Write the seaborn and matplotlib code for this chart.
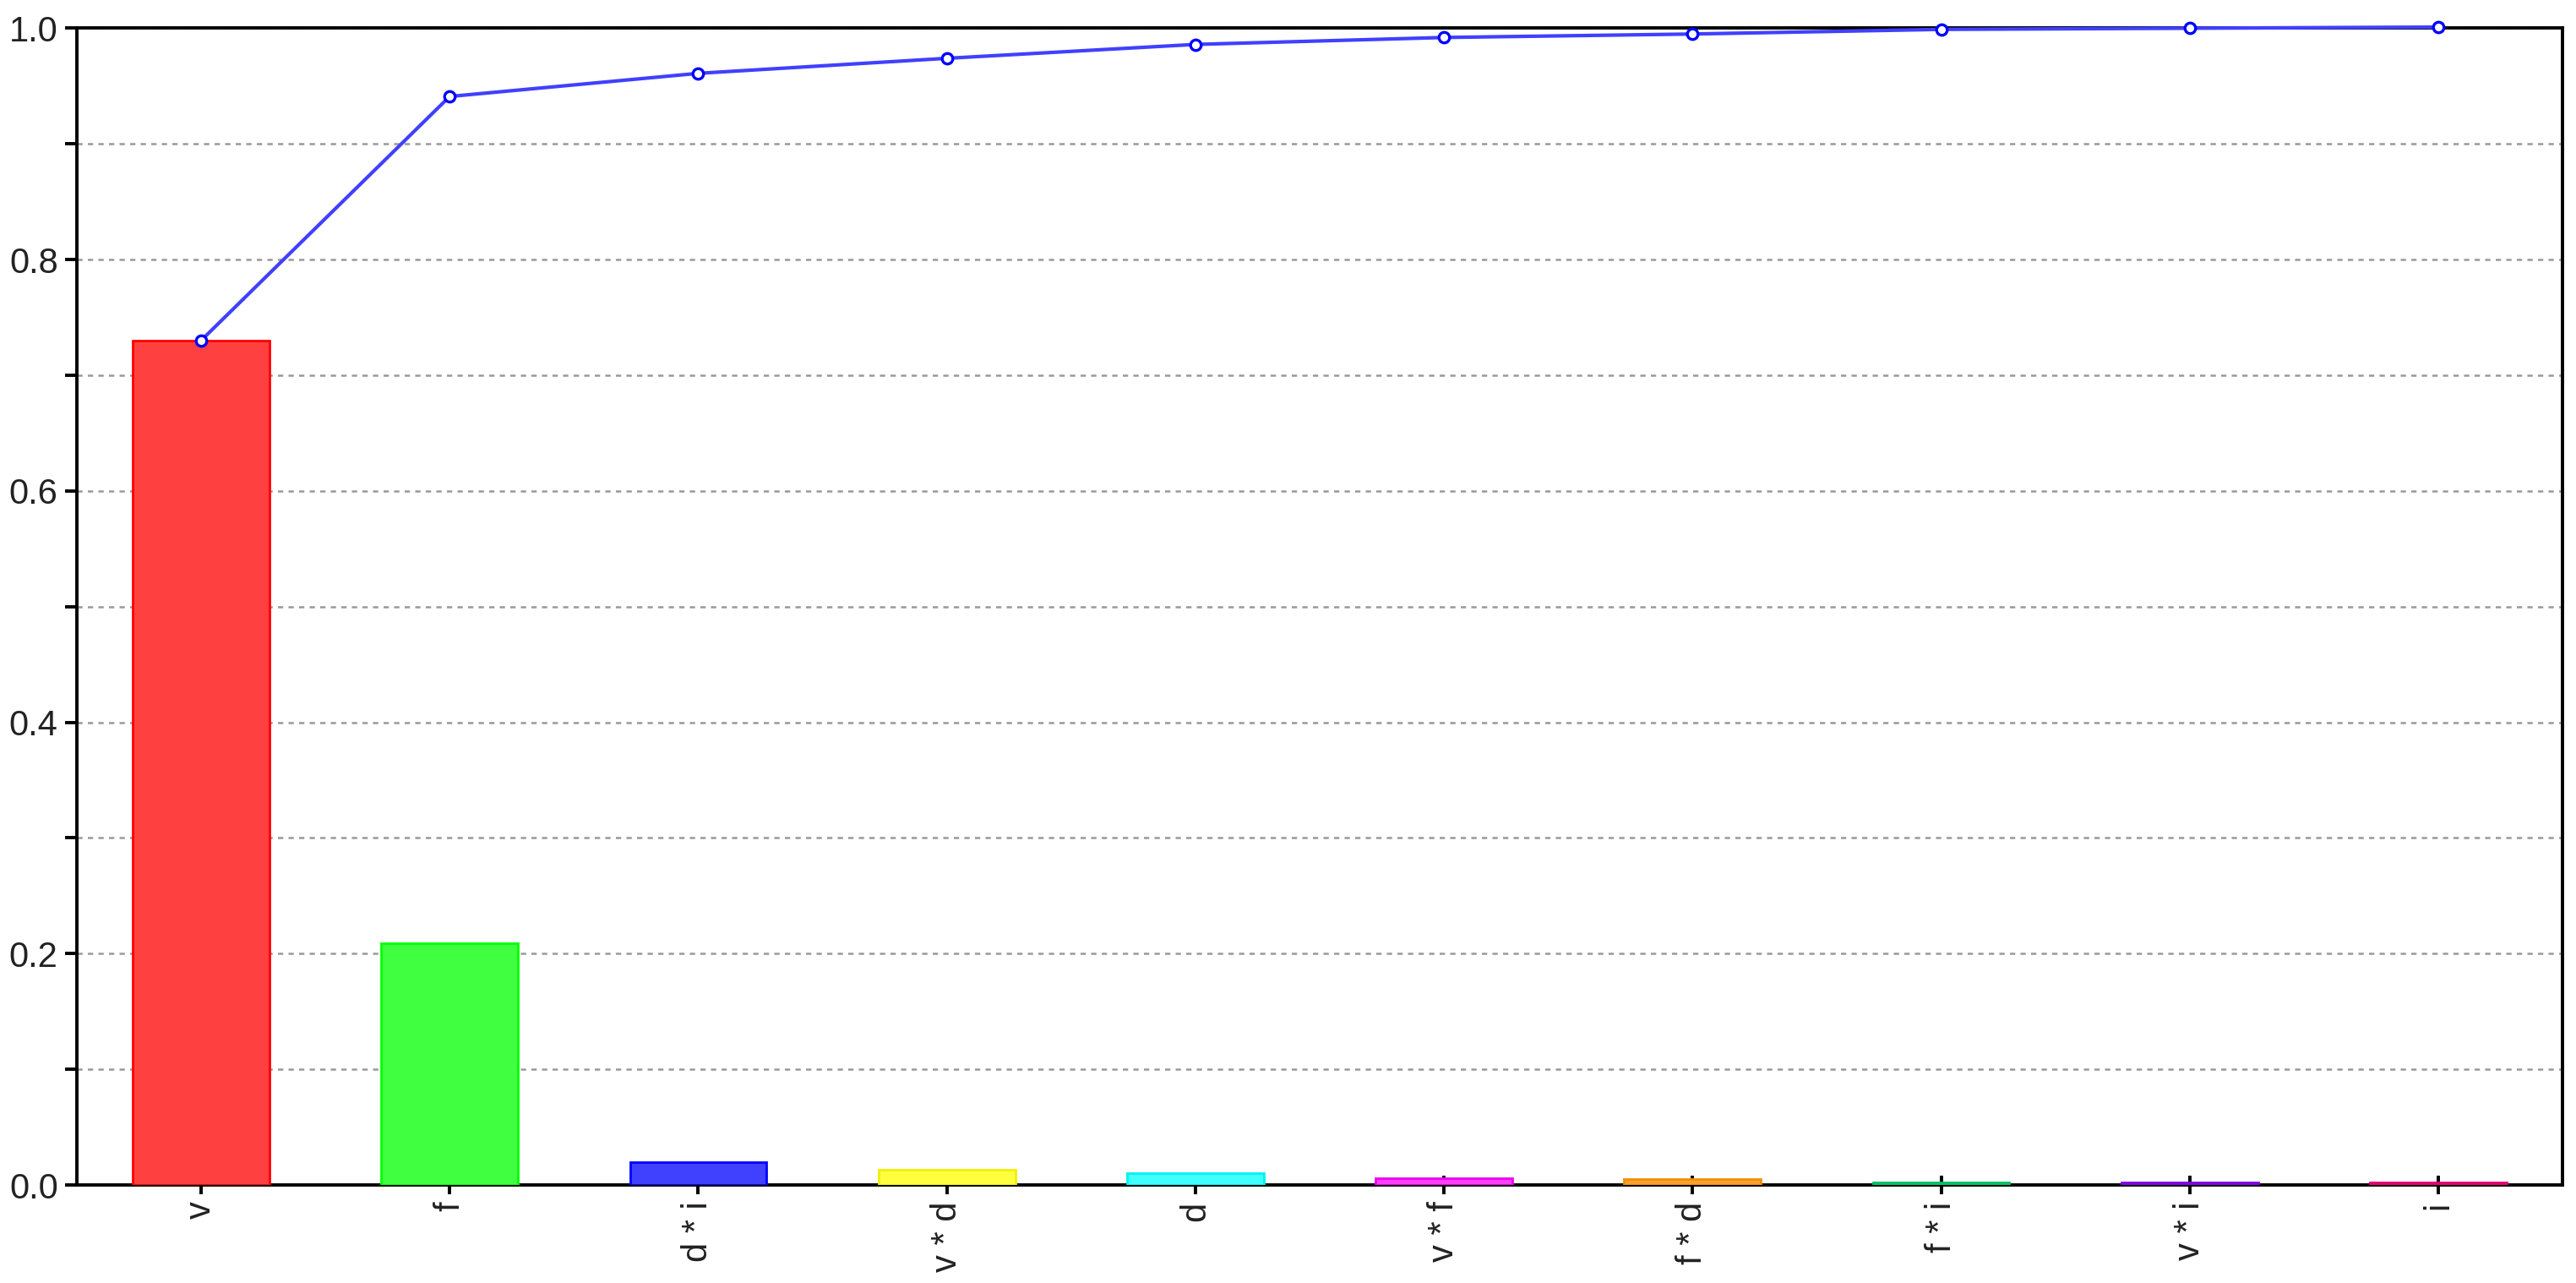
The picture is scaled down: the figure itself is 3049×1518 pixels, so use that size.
import numpy as np
import pandas as pd
import seaborn as sns
import matplotlib
matplotlib.use('Agg')
import matplotlib.pyplot as plt
from matplotlib.ticker import MultipleLocator

# Data
factors = ['v', 'f', 'd * i', 'v * d', 'd', 'v * f', 'f * d', 'f * i', 'v * i', 'i']
contribution = [0.730, 0.209, 0.020, 0.013, 0.010, 0.006, 0.005, 0.002, 0.002, 0.002]
cumulative = [0.730, 0.941, 0.961, 0.974, 0.986, 0.992, 0.995, 0.999, 1.000, 1.001]

fill_colors = ['#FF4040', '#40FF40', '#4040FF', '#FFFF40', '#40FFFF',
               '#FF40FF', '#FFA030', '#40FFA0', '#A040FF', '#FF4090']
edge_colors = ['#FF0000', '#00FF00', '#0000FF', '#F0F000', '#00F0F0',
               '#F000F0', '#F09000', '#00C060', '#8000E0', '#E00070']

df = pd.DataFrame({'factor': factors, 'value': contribution})

sns.set_theme(style='white')
plt.rcParams['font.family'] = ['Liberation Sans', 'DejaVu Sans']

fig = plt.figure(figsize=(15.245, 7.59), dpi=200)
ax = fig.add_axes([0.0298, 0.0764, 0.965, 0.9016])

sns.barplot(data=df, x='factor', y='value', hue='factor', palette=fill_colors,
            legend=False, width=0.55, saturation=1, ax=ax, zorder=3)
for bar, ec in zip(ax.patches, edge_colors):
    bar.set_edgecolor(ec)
    bar.set_linewidth(1.0)

# cumulative line
ax.plot(np.arange(len(factors)), cumulative, color='#4040FF', lw=1.5,
        marker='o', markersize=4.5, markerfacecolor='white',
        markeredgecolor='#0000FF', markeredgewidth=1.2, zorder=5, clip_on=False)

ax.set_xlim(-0.5, len(factors) - 0.5)
ax.set_ylim(0, 1.0)
ax.yaxis.set_major_locator(MultipleLocator(0.2))
ax.yaxis.set_minor_locator(MultipleLocator(0.1))
ax.set_yticklabels([f'{v:.1f}' for v in ax.get_yticks()])
ax.grid(axis='y', which='both', linestyle=(0, (2.5, 2.5)), color='#999999', lw=0.9, zorder=0)
ax.set_axisbelow(True)

ax.set_xticks(range(len(factors)))
ax.set_xticklabels(factors, rotation=90)
ax.set_xlabel('')
ax.set_ylabel('')

ax.tick_params(axis='both', which='both', direction='out', length=5, width=1.4,
               color='black', labelsize=15, labelcolor='#222222', pad=3, left=True, bottom=True)
ax.tick_params(axis='x', direction='inout', length=8)

for sp in ax.spines.values():
    sp.set_color('black')
    sp.set_linewidth(1.4)

fig.savefig('out.png', dpi=200, facecolor='white')
